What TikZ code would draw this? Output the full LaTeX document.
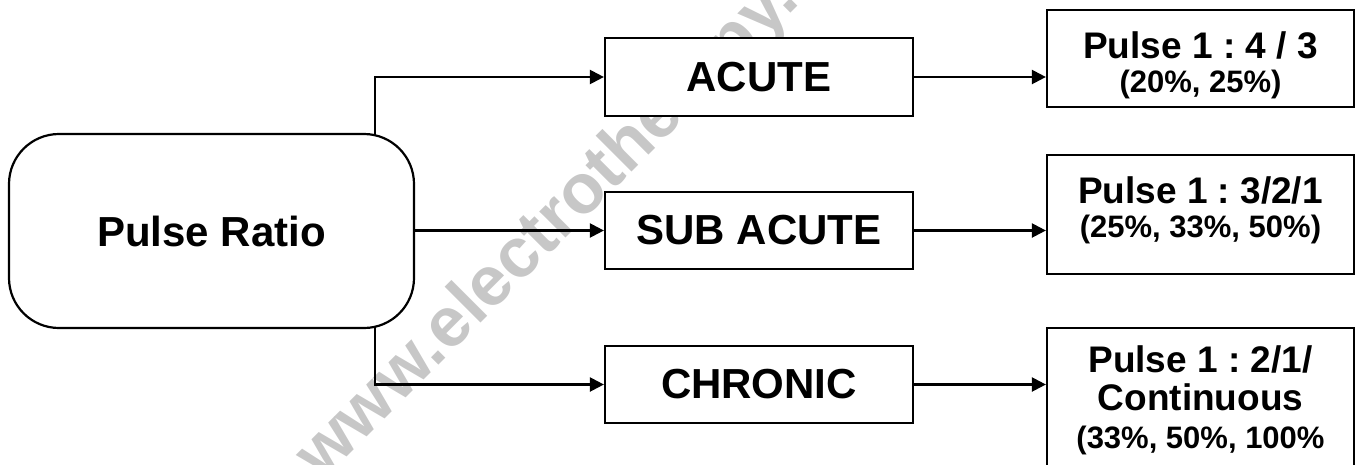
\documentclass[tikz,border=0pt]{standalone}
\usepackage{fontspec}
\setmainfont{Liberation Sans}
\usetikzlibrary{arrows.meta}
\frenchspacing
\begin{document}
\begin{tikzpicture}[x=1pt,y=-1pt,
  box/.style={draw=black, line width=2.2pt, fill=white, inner sep=0pt},
  bigtxt/.style={font=\fontsize{42}{48}\selectfont\bfseries},
  midtxt/.style={font=\fontsize{37}{42}\selectfont\bfseries, inner sep=0pt},
  smalltxt/.style={font=\fontsize{31}{36}\selectfont\bfseries, inner sep=0pt},
  wmark/.style={font=\fontsize{70}{72}\selectfont\bfseries, text=black!22, inner sep=0pt},
  arr/.style={draw=black, line width=2.2pt, -{Triangle[length=14pt,width=14pt]}}]
\useasboundingbox (0,0) rectangle (1358,464);
\clip (0,0) rectangle (1358,464);
% watermark
\node[wmark, rotate=45, anchor=base west] (wm) at (322,482) {www.electrotherapy.com};
% main box
\node[box, rounded corners=50pt, minimum width=405pt, minimum height=194pt, bigtxt] (ratio) at (211.5,231) {Pulse Ratio};
% middle boxes
\node[box, minimum width=308pt, minimum height=78pt, bigtxt] (acute) at (759,77) {ACUTE};
\node[box, minimum width=308pt, minimum height=77pt, bigtxt] (sub) at (759,230.5) {SUB ACUTE};
\node[box, minimum width=308pt, minimum height=77pt, bigtxt] (chronic) at (759,384.5) {CHRONIC};
% right boxes
\node[box, minimum width=307pt, minimum height=97pt] (r1) at (1200.5,58.5) {};
\node[box, minimum width=307pt, minimum height=119pt] (r2) at (1200.5,214.5) {};
\node[box, minimum width=307pt, minimum height=160pt] (r3) at (1200.5,408) {};
% right box texts
\node[midtxt, anchor=base] (r1a) at (1200.5,58) {Pulse 1 : 4 / 3};
\node[smalltxt, anchor=base] (r1b) at (1200.5,92) {(20\%, 25\%)};
\node[midtxt, anchor=base] (r2a) at (1200.5,203) {Pulse 1 : 3/2/1};
\node[smalltxt, anchor=base] (r2b) at (1200.5,237) {(25\%, 33\%, 50\%)};
\node[midtxt, anchor=base] (r3a) at (1200.5,372) {Pulse 1 : 2/1/};
\node[midtxt, anchor=base] (r3b) at (1200.5,410) {Continuous};
\node[smalltxt, anchor=base] (r3c) at (1200.5,448) {(33\%, 50\%, 100\%};
% junction points on the rounded box
\coordinate (jt) at (375,135);
\coordinate (jb) at (375,327);
% connectors
\draw[arr] (jt) |- (acute.west);
\draw[arr] (ratio.east |- sub.west) -- (sub.west);
\draw[arr] (jb) |- (chronic.west);
\draw[arr] (acute.east) -- (acute.east -| r1.west);
\draw[arr] (sub.east) -- (sub.east -| r2.west);
\draw[arr] (chronic.east) -- (chronic.east -| r3.west);
\end{tikzpicture}
\end{document}
